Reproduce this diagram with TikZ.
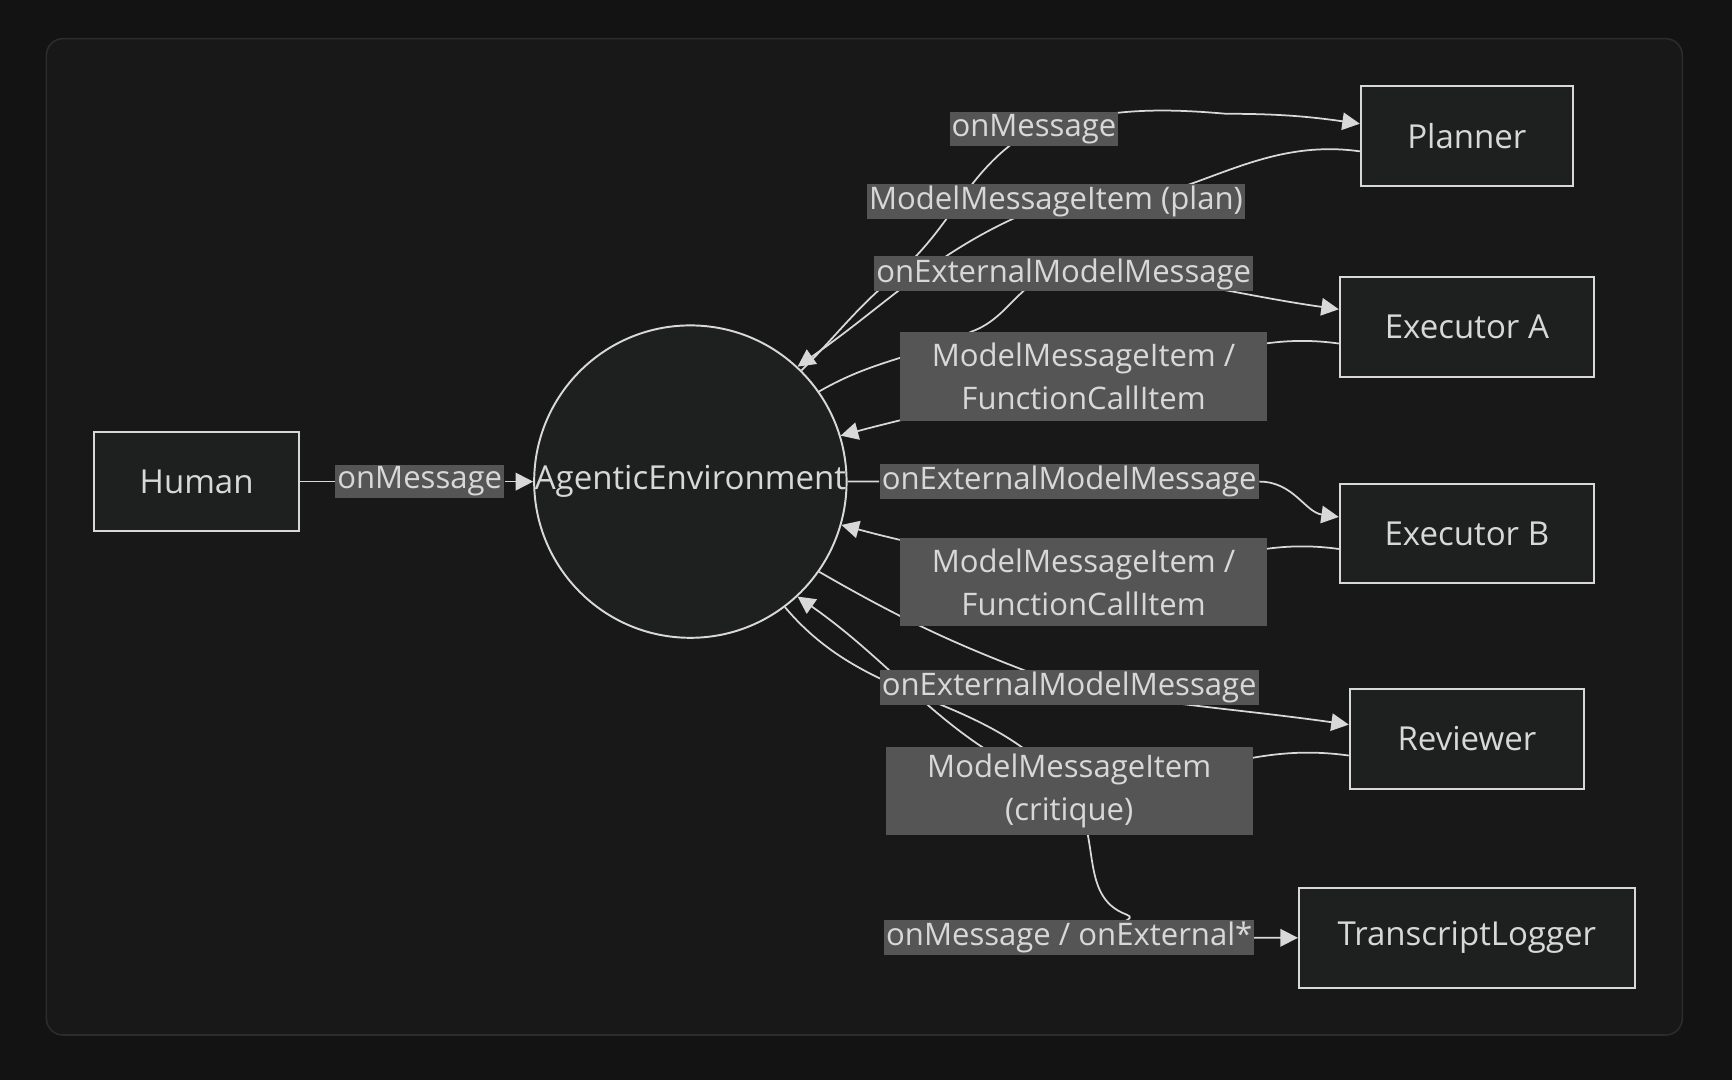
\documentclass[tikz,border=0pt]{standalone}
\usepackage{fontspec}
\setmainfont{Open Sans}
\usetikzlibrary{arrows.meta}
\definecolor{pagebg}{HTML}{131313}
\definecolor{panelbg}{HTML}{181818}
\definecolor{panelline}{HTML}{2C2C2C}
\definecolor{nodebg}{HTML}{1E2020}
\definecolor{ink}{HTML}{D8D8D8}
\definecolor{tagbg}{HTML}{555555}
\pgfdeclarelayer{bg}
\pgfdeclarelayer{edge}
\pgfsetlayers{bg,edge,main}
\tikzset{
    box/.style={draw=ink, fill=nodebg, line width=0.5pt, minimum height=0.9cm, text=ink, font=\fontsize{8.5}{11}\selectfont},
    tag/.style={fill=tagbg, text=ink, inner sep=0.5pt, font=\fontsize{8}{11}\selectfont},
    tagtwo/.style={tag, align=center, minimum width=3.32cm, minimum height=0.8cm},
    link/.style={draw=ink, line width=0.45pt},
    tip/.style={link, -{Triangle[length=4.5pt,width=4.5pt]}}
}
\begin{document}
\begin{tikzpicture}[x=0.01cm, y=-0.01cm]
    \useasboundingbox (0,0) rectangle (1568,978);
    \begin{pgfonlayer}{bg}
        \fill[pagebg] (0,0) rectangle (1568,978);
        \draw[panelline, fill=panelbg, rounded corners=0.15cm] (42,35) rectangle (1523,937);
    \end{pgfonlayer}

    % Nodes
    \node[box, minimum width=1.85cm] (human) at (178,436) {Human};
    \node[box, circle, minimum size=2.7cm, inner sep=0pt] (env) at (625,436) {AgenticEnvironment};
    \node[box, minimum width=1.92cm] (planner) at (1328,123) {Planner};
    \node[box, minimum width=2.3cm] (exA) at (1328,296) {Executor A};
    \node[box, minimum width=2.3cm] (exB) at (1328,483) {Executor B};
    \node[box, minimum width=2.12cm] (reviewer) at (1328,669) {Reviewer};
    \node[box, minimum width=3.04cm] (logger) at (1328,849) {TranscriptLogger};

    % Labels
    \node[tag] (lHuman) at (380,436) {onMessage};
    \node[tag] (lPlanIn) at (936,117) {onMessage};
    \node[tag] (lPlanOut) at (956,182) {ModelMessageItem (plan)};
    \node[tag] (lAIn) at (963,248) {onExternalModelMessage};
    \node[tagtwo] (lAOut) at (981,341) {ModelMessageItem /\\FunctionCallItem};
    \node[tag] (lBIn) at (968,436) {onExternalModelMessage};
    \node[tagtwo] (lBOut) at (981,527) {ModelMessageItem /\\FunctionCallItem};
    \node[tag] (lRevIn) at (968,622) {onExternalModelMessage};
    \node[tagtwo] (lRevOut) at (968,716) {ModelMessageItem\\(critique)};
    \node[tag] (lLog) at (968,849) {onMessage / onExternal*};

    % Connectors
    \begin{pgfonlayer}{edge}
        \draw[tip] (human) -- (lHuman) -- (env);
        \draw[tip] (env.45) to[out=45,in=-140] (810,250) to[out=40,in=-150] (lPlanIn.center)
            to[out=15,in=175] (1110,103) to[out=0,in=172] (planner.west |- 0,112);
        \draw[tip] (planner.west |- 0,137) to[out=172,in=-10] (lPlanOut.center)
            to[out=-160,in=35] (env.47);
        \draw[tip] (env.35) to[out=30,in=-155] (880,300) to[out=20,in=180] (lAIn.center)
            to[out=0,in=172] (exA.west |- 0,280);
        \draw[tip] (exA.west |- 0,311) to[out=172,in=0] (lAOut.center)
            to[out=-165,in=15] (env.17);
        \draw[tip] (env) -- (lBIn) to[out=0,in=172] (exB.west |- 0,468);
        \draw[tip] (exB.west |- 0,497) to[out=172,in=0] (lBOut.center)
            to[out=165,in=-15] (env.-16);
        \draw[tip] (env.-35) to[out=-30,in=160] (lRevIn.center)
            to[out=-10,in=172] (reviewer.west |- 0,656);
        \draw[tip] (reviewer.west |- 0,684) to[out=172,in=0] (lRevOut.center)
            to[out=160,in=-35] (env.-47);
        \draw[tip] (env.-53) to[out=-50,in=130] (lRevOut.center)
            to[out=-50,in=160] (1020,828) to[out=-20,in=180] (lLog.center) -- (logger);
    \end{pgfonlayer}
\end{tikzpicture}
\end{document}
